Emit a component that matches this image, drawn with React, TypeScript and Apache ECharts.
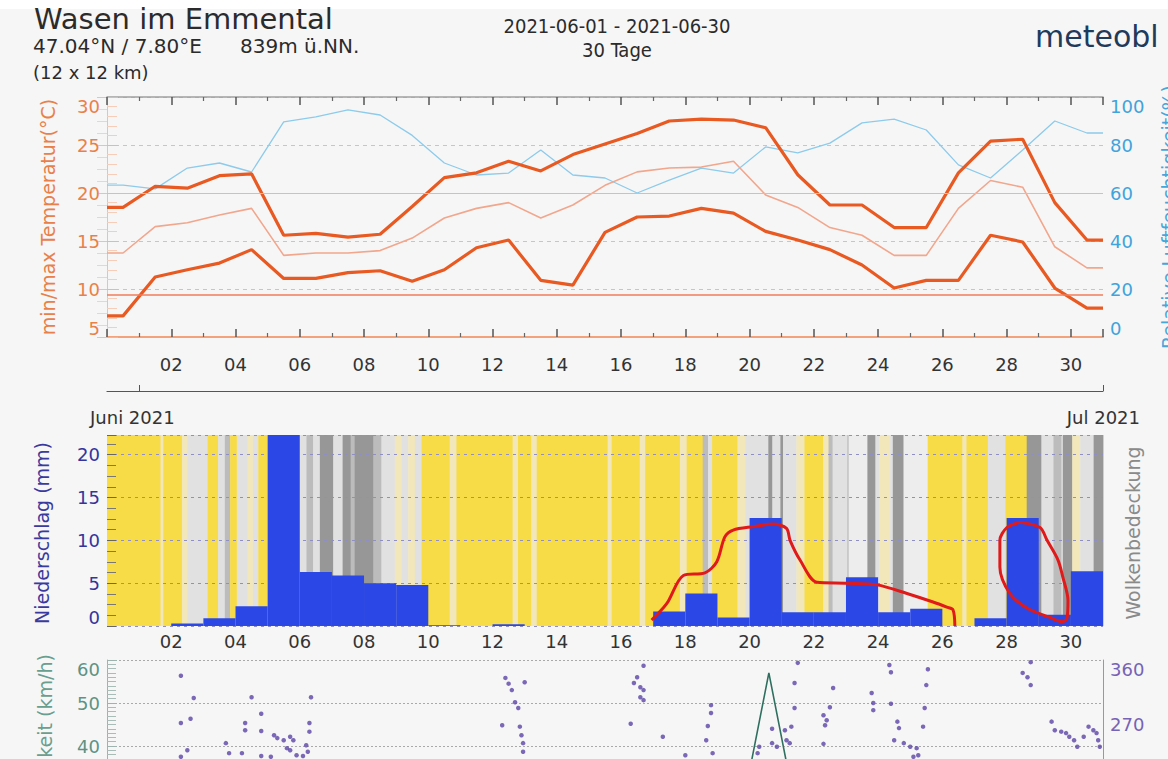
import React, { useEffect, useRef } from "react";
import * as echarts from "echarts";

// ---------- DATA ----------
const dayCount = 31;
const tMax = [18.5, 20.7, 20.5, 21.8, 22.0, 15.6, 15.8, 15.4, 15.7, 18.6, 21.6, 22.1, 23.3, 22.3, 24.0, 25.1, 26.2, 27.5, 27.7, 27.6, 26.8, 21.9, 18.75, 18.75, 16.4, 16.4, 22.1, 25.4, 25.6, 19.0, 15.1];
const tMin = [7.2, 11.25, 12.0, 12.7, 14.1, 11.1, 11.1, 11.7, 11.9, 10.8, 12.0, 14.3, 15.1, 10.9, 10.4, 15.9, 17.5, 17.6, 18.4, 17.9, 16.0, 15.1, 14.1, 12.5, 10.1, 10.9, 10.9, 15.6, 14.9, 10.1, 8.0];
const tMean = [13.75, 16.5, 16.9, 17.7, 18.4, 13.5, 13.75, 13.75, 14.0, 15.3, 17.4, 18.4, 19.0, 17.4, 18.75, 20.8, 22.2, 22.6, 22.7, 23.3, 19.8, 18.5, 16.4, 15.6, 13.5, 13.5, 18.4, 21.3, 20.6, 14.4, 12.2];
const humidity = [63.3, 61.7, 70.4, 72.5, 68.75, 89.6, 91.7, 94.6, 92.5, 84, 72.5, 67.5, 68.3, 77.9, 67.5, 66.25, 60, 65.4, 70.4, 68.3, 79.2, 76.7, 80.8, 89.2, 90.8, 86.25, 71.7, 66.25, 77.9, 90, 85];
const refTemp = 9.4;
const refHumidity = 60;

const precip = [0, 0, 0.3, 0.9, 2.3, 24, 6.3, 5.9, 5.0, 4.8, 0.1, 0, 0.2, 0, 0, 0, 0, 1.7, 3.8, 1.0, 12.6, 1.6, 1.6, 5.7, 1.6, 2.0, 0, 0.9, 12.6, 1.3, 6.4];
const precipMax = 22.3;

// cloud cover stripes: start hour (from 1 June 00:00) and class
const cloudStart = [0, 40, 42, 56, 60, 75, 83, 88, 92, 97, 105, 109, 113, 120, 149, 154, 159, 169, 176, 182, 185, 199, 205, 215, 220, 225, 230, 235, 256, 261, 303, 307, 317, 321, 374, 377, 398, 402, 428, 433, 445, 449, 452, 471, 477, 494, 497, 503, 505, 515, 521, 535, 539, 542, 553, 554, 568, 574, 577, 585, 587, 595, 613, 639, 642, 658, 671, 687, 698, 707, 713, 714, 721, 727, 737];
const cloudCode = ["Y", "P", "Y", "P", "L", "Y", "L", "M", "Y", "L", "P", "L", "Y", "L", "M", "L", "D", "L", "D", "M", "D", "M", "L", "P", "L", "P", "L", "Y", "P", "Y", "P", "Y", "P", "Y", "P", "Y", "P", "Y", "P", "Y", "M", "L", "Y", "P", "L", "D", "L", "D", "L", "P", "Y", "P", "M", "L", "M", "W", "D", "L", "P", "L", "D", "W", "Y", "P", "Y", "L", "Y", "D", "L", "M", "L", "D", "P", "L", "D"];
const cloudEndHour = 744;

// hand-drawn red annotations (day, mm)
const redMark1 = [[16.95, 0.7], [17.42, 2.6], [17.94, 5.9], [18.61, 6.2], [18.98, 7.5], [19.23, 10.4], [19.49, 11.2], [20.1, 11.6], [20.74, 11.9], [21.15, 11.4], [21.26, 10.0], [21.57, 7.7], [22.1, 5.1], [23.03, 5.0], [23.97, 4.8], [24.9, 3.8], [25.71, 2.8], [26.14, 2.2], [26.33, 1.9], [26.39, 0]];
const redMark2 = [[28.42, 12.1], [29.04, 11.5], [29.26, 10.0], [29.6, 7.7], [29.75, 5.7], [29.91, 3.0], [29.88, 0.9], [29.72, 0.5], [29.35, 1.0], [28.63, 2.1], [28.1, 3.8], [27.79, 6.9], [27.79, 10.0], [28.01, 11.5], [28.42, 12.1]];

// wind
const windSpeed = [[19.6, 19], [20.6, 57], [21.6, 19]];
const windDir = [
  [2.3, 338], [2.7, 307], [2.3, 272], [2.6, 278], [2.5, 234], [2.3, 225],
  [4.5, 308], [4.8, 285], [4.3, 272], [4.3, 262], [4.8, 261], [3.7, 244], [3.8, 230], [4.2, 230], [4.8, 226], [5.1, 225],
  [5.2, 255], [5.3, 251], [5.5, 248], [5.7, 253], [5.8, 248], [5.6, 237], [5.7, 234], [5.9, 227], [6.1, 226],
  [6.35, 308], [6.3, 272], [6.3, 260], [6.2, 241], [6.25, 232],
  [12.4, 335], [12.5, 327], [12.6, 318], [13.0, 329], [12.7, 301], [12.8, 293], [12.3, 269], [12.85, 267], [12.9, 255], [12.95, 244], [12.95, 232],
  [16.7, 352], [16.5, 336], [16.4, 328], [16.6, 322], [16.7, 318], [16.6, 308], [16.7, 304], [16.3, 271], [17.3, 253],
  [18.8, 297], [18.8, 286], [18.7, 268], [18.65, 248], [18.85, 230], [18.0, 227],
  [20.7, 264], [20.3, 239], [20.25, 230], [20.7, 244], [20.85, 239],
  [21.4, 328], [21.4, 293], [21.1, 262], [21.3, 267], [21.15, 248], [21.25, 244], [21.5, 356],
  [22.3, 243], [22.35, 269], [22.4, 276], [22.3, 283], [22.5, 294], [22.6, 321],
  [23.8, 314], [23.85, 300], [23.85, 290],
  [24.35, 353], [24.4, 343], [24.4, 299], [24.6, 274], [24.65, 265], [24.5, 248], [24.8, 244], [25.0, 239], [25.2, 237], [25.25, 227], [25.1, 225],
  [25.55, 347], [25.5, 325], [25.45, 293], [25.4, 267],
  [28.75, 357], [28.5, 342], [28.65, 336], [28.75, 325],
  [29.4, 274], [29.5, 262], [29.7, 260], [29.85, 258], [29.95, 253], [30.1, 248], [30.2, 239], [30.4, 253], [30.55, 267], [30.7, 262], [30.8, 258], [30.85, 248], [30.9, 239],
];
const windSpeedLabelMin = 40;
const windDirLabelMin = 270;

// ---------- helpers ----------
const FONT = "DejaVu Sans";
const cloudColors: Record<string, string> = {
  Y: "#f7dc48",
  P: "#f1e7bb",
  W: "#ededed",
  L: "#e1e1e1",
  M: "#bcbcbc",
  D: "#979797",
};

const dailyLine = (vals: number[]) => [
  [0, vals[0]],
  ...vals.map((v, i) => [i + 0.5, v]),
  [dayCount, vals[vals.length - 1]],
];

const fmtDay = (v: number) =>
  v >= 2 && v <= 30 && Math.abs(v % 2) < 1e-6 ? String(v).padStart(2, "0") : "";

const xBase = {
  type: "value",
  min: 0,
  max: dayCount,
  interval: 2,
  splitLine: { show: false },
};

const txt = (
  text: string,
  x: number,
  y: number,
  size: number,
  fill: string,
  align = "left",
  rotation = 0,
  family = FONT
) => ({
  type: "text",
  x,
  y,
  rotation,
  z: 100,
  style: {
    text,
    fill,
    fontSize: size,
    fontFamily: family,
    align,
    verticalAlign: "middle",
    textAlign: align,
    textVerticalAlign: "middle",
  },
});

export default function App() {
  const ref = useRef<HTMLDivElement>(null);

  useEffect(() => {
    if (!ref.current) return;
    const chart = echarts.init(ref.current, null, { renderer: "svg" });

    const stripeData = cloudStart.map((s, i) => [
      s / 24,
      (i + 1 < cloudStart.length ? cloudStart[i + 1] : cloudEndHour) / 24,
    ]);
    const stripeCodes = cloudCode;

    const precipData = precip
      .map((v, i) => [i, v])
      .filter((d) => d[1] > 0);

    const option: any = {
      animation: false,
      backgroundColor: "#f6f6f6",
      textStyle: { fontFamily: FONT },
      grid: [
        { left: 107, right: 65, top: 97, height: 240 },
        { left: 107, right: 65, top: 435, height: 191 },
        { left: 107, right: 65, top: 660, height: 258 },
      ],
      xAxis: [
        {
          ...xBase,
          gridIndex: 0,
          position: "bottom",
          axisLine: { show: true, lineStyle: { color: "#f3a27c", width: 2 } },
          axisTick: { show: true, inside: true, length: 8, lineStyle: { color: "#555", width: 1.5 } },
          minorTick: { show: true, splitNumber: 2, length: 4, lineStyle: { color: "#666", width: 1.2 } },
          axisLabel: { margin: 18, fontSize: 18, color: "#333", formatter: fmtDay },
        },
        {
          ...xBase,
          gridIndex: 0,
          position: "top",
          axisLine: { show: true, lineStyle: { color: "#a0a0a0", width: 1.5 } },
          axisTick: { show: true, inside: true, length: 8, lineStyle: { color: "#555", width: 1.5 } },
          minorTick: { show: true, splitNumber: 2, length: 4, lineStyle: { color: "#666", width: 1.2 } },
          axisLabel: { show: false },
        },
        {
          ...xBase,
          gridIndex: 0,
          position: "bottom",
          offset: 54,
          axisLine: { show: true, lineStyle: { color: "#555", width: 1.2 } },
          axisTick: { show: true, inside: true, length: 6, customValues: [1, 31], lineStyle: { color: "#555" } },
          axisLabel: { show: false },
        },
        {
          ...xBase,
          gridIndex: 1,
          position: "bottom",
          axisLine: { show: false },
          axisTick: { show: false },
          axisLabel: { margin: 6, fontSize: 18, color: "#333", formatter: fmtDay },
        },
        {
          ...xBase,
          gridIndex: 2,
          position: "top",
          axisLine: { show: true, lineStyle: { color: "#9a9a9a", width: 1.5 } },
          axisTick: { show: true, inside: true, length: 5, lineStyle: { color: "#777" } },
          minorTick: { show: true, splitNumber: 2, length: 3, lineStyle: { color: "#888" } },
          axisLabel: { show: false },
        },
      ],
      yAxis: [
        {
          type: "value",
          gridIndex: 0,
          position: "left",
          min: 5,
          max: 30,
          interval: 5,
          axisLine: { show: true, lineStyle: { color: "#f2c3a8" } },
          axisTick: { show: true, inside: true, length: 11, lineStyle: { color: "#f0b596" } },
          minorTick: { show: true, splitNumber: 5, length: 10, lineStyle: { color: "#f5cdb8" } },
          axisLabel: {
            color: "#e9804a",
            fontSize: 18,
            margin: 7,
            verticalAlignMaxLabel: "top",
            verticalAlignMinLabel: "bottom",
          },
          splitLine: { show: false },
        },
        {
          type: "value",
          gridIndex: 0,
          position: "right",
          min: 0,
          max: 100,
          interval: 20,
          axisLine: { show: true, lineStyle: { color: "#a9d5ee" } },
          axisTick: { show: true, inside: true, length: 10, lineStyle: { color: "#a9d5ee" } },
          minorTick: { show: true, splitNumber: 4, length: 10, lineStyle: { color: "#c2e2f3" } },
          axisLabel: {
            color: "#3fa3dc",
            fontSize: 18,
            margin: 7,
            verticalAlignMaxLabel: "top",
            verticalAlignMinLabel: "bottom",
          },
          splitLine: { show: true, lineStyle: { color: "#a6cfe8", type: [4, 4], width: 1 } },
        },
        {
          type: "value",
          gridIndex: 1,
          min: 0,
          max: precipMax,
          interval: 5,
          axisLine: { show: false },
          axisTick: { show: true, inside: true, length: 9, lineStyle: { color: "#666" } },
          minorTick: { show: true, splitNumber: 4, length: 9, lineStyle: { color: "#777" } },
          axisLabel: {
            color: "#34349c",
            fontSize: 18,
            margin: 7,
            showMaxLabel: false,
            verticalAlignMinLabel: "bottom",
          },
          splitLine: { show: true, lineStyle: { color: "#8f8fc6", type: [3, 4], width: 1 } },
        },
        {
          type: "value",
          gridIndex: 2,
          position: "left",
          min: 0,
          max: 60,
          interval: 10,
          axisLine: { show: true, lineStyle: { color: "#9fb3ae" } },
          axisTick: { show: true, inside: true, length: 10, lineStyle: { color: "#9fb3ae" } },
          minorTick: { show: true, splitNumber: 10, length: 9, lineStyle: { color: "#a9bcb7" } },
          axisLabel: {
            color: "#5f9283",
            fontSize: 18,
            margin: 7,
            verticalAlignMaxLabel: "top",
            formatter: (v: number) => (v >= windSpeedLabelMin ? String(v) : ""),
          },
          splitLine: { show: true, lineStyle: { color: "#a9a9a9", type: [2, 2], width: 1 } },
        },
        {
          type: "value",
          gridIndex: 2,
          position: "right",
          min: 0,
          max: 360,
          interval: 90,
          axisLine: { show: true, lineStyle: { color: "#999" } },
          axisTick: { show: false },
          axisLabel: {
            color: "#7563b5",
            fontSize: 18,
            margin: 7,
            verticalAlignMaxLabel: "top",
            formatter: (v: number) => (v >= windDirLabelMin ? String(v) : ""),
          },
          splitLine: { show: false },
        },
      ],
      series: [
        {
          name: "Relative Luftfeuchtigkeit",
          type: "line",
          xAxisIndex: 0,
          yAxisIndex: 1,
          data: dailyLine(humidity),
          symbol: "none",
          lineStyle: { color: "#8ccbeb", width: 1.3 },
          markLine: {
            silent: true,
            symbol: "none",
            label: { show: false },
            lineStyle: { color: "#c4c4c4", type: "solid", width: 1.2 },
            data: [{ yAxis: refHumidity }],
          },
        },
        {
          name: "Mittel",
          type: "line",
          xAxisIndex: 0,
          yAxisIndex: 0,
          data: dailyLine(tMean),
          symbol: "none",
          lineStyle: { color: "#f2a68c", width: 1.6 },
          markLine: {
            silent: true,
            symbol: "none",
            label: { show: false },
            lineStyle: { color: "#f07d58", type: "solid", width: 1.6 },
            data: [{ yAxis: refTemp }],
          },
        },
        {
          name: "Max",
          type: "line",
          xAxisIndex: 0,
          yAxisIndex: 0,
          data: dailyLine(tMax),
          symbol: "none",
          lineStyle: { color: "#e85a22", width: 3.2 },
        },
        {
          name: "Min",
          type: "line",
          xAxisIndex: 0,
          yAxisIndex: 0,
          data: dailyLine(tMin),
          symbol: "none",
          lineStyle: { color: "#e85a22", width: 3.2 },
        },
        {
          name: "Wolken",
          type: "custom",
          xAxisIndex: 3,
          yAxisIndex: 2,
          z: -1,
          silent: true,
          data: stripeData,
          encode: { x: [0, 1] },
          renderItem: (params: any, api: any) => {
            const a = api.coord([api.value(0), precipMax]);
            const b = api.coord([api.value(1), 0]);
            return {
              type: "rect",
              shape: { x: a[0], y: a[1], width: b[0] - a[0] + 0.4, height: b[1] - a[1] },
              style: { fill: cloudColors[stripeCodes[params.dataIndex]] },
            };
          },
        },
        {
          name: "Niederschlag",
          type: "custom",
          xAxisIndex: 3,
          yAxisIndex: 2,
          z: 2,
          data: precipData,
          encode: { x: 0, y: 1 },
          renderItem: (params: any, api: any) => {
            const d = api.value(0);
            const v = Math.min(api.value(1), precipMax);
            const a = api.coord([d, v]);
            const b = api.coord([d + 1, 0]);
            return {
              type: "rect",
              shape: { x: a[0], y: a[1], width: b[0] - a[0], height: b[1] - a[1] },
              style: { fill: "#2b48e6" },
            };
          },
        },
        {
          name: "mark1",
          type: "line",
          xAxisIndex: 3,
          yAxisIndex: 2,
          z: 5,
          data: redMark1,
          symbol: "none",
          smooth: 0.3,
          lineStyle: { color: "#e01a1a", width: 3 },
        },
        {
          name: "mark2",
          type: "line",
          xAxisIndex: 3,
          yAxisIndex: 2,
          z: 5,
          data: redMark2,
          symbol: "none",
          smooth: 0.3,
          lineStyle: { color: "#e01a1a", width: 3 },
        },
        {
          name: "Windgeschwindigkeit",
          type: "line",
          xAxisIndex: 4,
          yAxisIndex: 3,
          data: windSpeed,
          symbol: "none",
          lineStyle: { color: "#2f6f5f", width: 1.6 },
        },
        {
          name: "Windrichtung",
          type: "scatter",
          xAxisIndex: 4,
          yAxisIndex: 4,
          data: windDir,
          symbolSize: 4.5,
          itemStyle: { color: "#5b43a6" },
        },
      ],
      graphic: [
        { type: "rect", shape: { x: 0, y: 0, width: 1168, height: 9 }, style: { fill: "#ffffff" }, z: 99 },
        txt("Wasen im Emmental", 34, 19, 29, "#2b2b2b"),
        txt("47.04°N / 7.80°E", 33, 46, 20, "#2b2b2b"),
        txt("839m ü.NN.", 240, 46, 20, "#2b2b2b"),
        txt("(12 x 12 km)", 33, 72, 18, "#2b2b2b"),
        txt("2021-06-01 - 2021-06-30", 617, 26, 20, "#2b2b2b", "center", 0, "DejaVu Sans Condensed, DejaVu Sans"),
        txt("30 Tage", 617, 50, 20, "#2b2b2b", "center", 0, "DejaVu Sans Condensed, DejaVu Sans"),
        txt("meteobl", 1035, 36, 30, "#1f3b5c"),
        txt("min/max Temperatur(°C)", 48, 217, 19, "#e9804a", "center", Math.PI / 2),
        txt("Relative Luftfeuchtigkeit(%)", 1169, 217, 19, "#45a6dc", "center", Math.PI / 2),
        txt("Juni 2021", 90, 417, 18, "#333"),
        txt("Jul 2021", 1140, 417, 18, "#333", "right"),
        txt("Niederschlag (mm)", 42, 533, 19, "#3a3a9e", "center", Math.PI / 2),
        txt("Wolkenbedeckung", 1133, 533, 19, "#8a8a8a", "center", Math.PI / 2),
        txt("Windgeschwindigkeit (km/h)", 45, 789, 19, "#6a9e8e", "center", Math.PI / 2),
      ],
    };

    chart.setOption(option);
    return () => chart.dispose();
  }, []);

  return (
    <div
      style={{
        position: "fixed",
        left: 0,
        top: 0,
        width: 1168,
        height: 759,
        overflow: "hidden",
      }}
    >
      <div ref={ref} style={{ width: 1168, height: 1000 }} />
    </div>
  );
}
